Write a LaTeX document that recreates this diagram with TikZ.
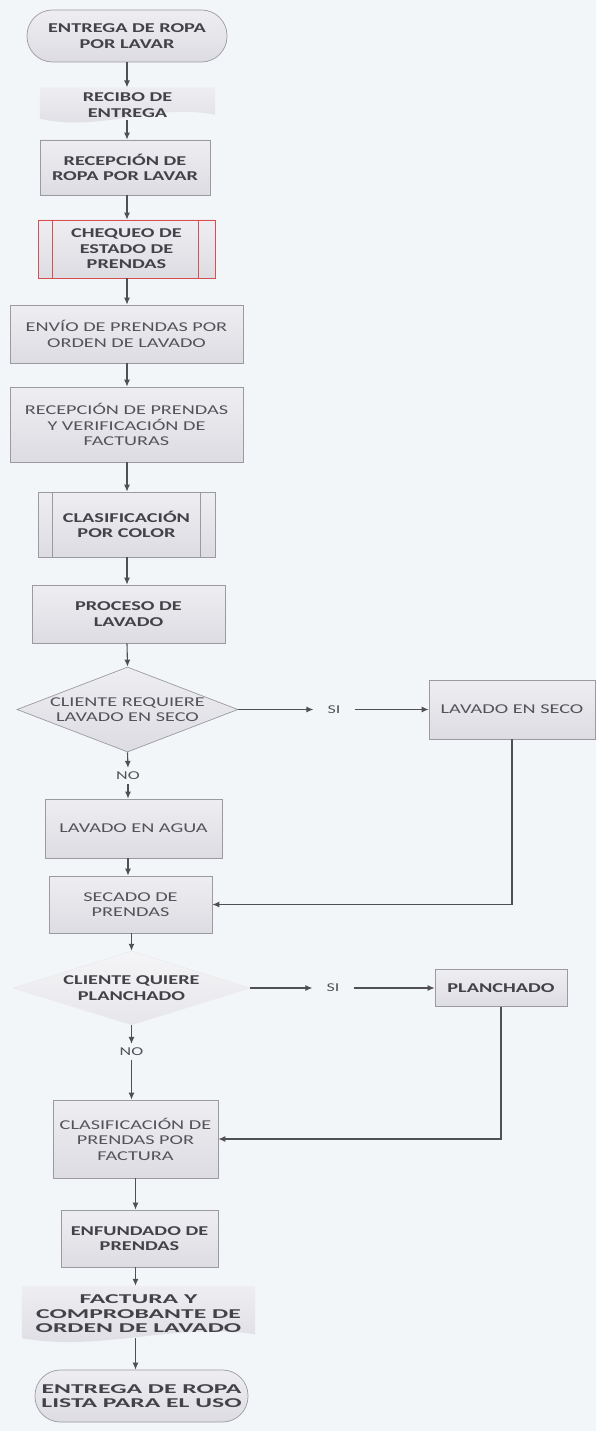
\documentclass[tikz,border=0pt]{standalone}
\usepackage{fontspec}
\setmainfont{Carlito}[FakeStretch=1.5]
\newfontfamily\widefont{Carlito}[FakeStretch=1.9]
\usetikzlibrary{shapes.geometric,arrows.meta,calc}

\definecolor{bgpaper}{HTML}{F3F6F8}
\definecolor{boxtop}{HTML}{EEEEF2}
\definecolor{boxbot}{HTML}{DCDCE2}
\definecolor{boxline}{HTML}{9A9AA0}
\definecolor{inkbold}{HTML}{424248}
\definecolor{inkreg}{HTML}{535359}
\definecolor{flowline}{HTML}{4F4F54}
\definecolor{checkred}{HTML}{D65050}

\pgfdeclarelayer{paper}
\pgfdeclarelayer{docs}
\pgfsetlayers{paper,docs,main}

% zero-width line, so that a diamond keeps its given size
\newcommand\zw[1]{\makebox[0pt]{#1}}

% document shape (flat top, wavy bottom) drawn behind a named node
\newcommand\wavedoc[1]{%
  \begin{pgfonlayer}{docs}
  \path[top color=boxtop, bottom color=boxbot]
    (#1.north west) -- (#1.north east) -- ($(#1.south east)+(0,-8)$)
    .. controls ($(#1.south east)!0.35!(#1.south west)+(0,-20)$)
            and ($(#1.south west)!0.35!(#1.south east)+(0,10)$)
    .. ($(#1.south west)+(0,-4)$) -- cycle;
  \end{pgfonlayer}}

\tikzset{
  base/.style={align=center, inner sep=0pt},
  boldtxt/.style={text=inkbold, font=\fontsize{13.5}{15.5}\selectfont\bfseries},
  widetxt/.style={text=inkbold, font=\widefont\fontsize{13.5}{14.5}\selectfont\bfseries},
  regtxt/.style={text=inkreg, font=\fontsize{13.5}{15.5}\selectfont},
  smalltxt/.style={text=inkreg, font=\fontsize{12}{14}\selectfont},
  procbox/.style={base, rectangle, draw=boxline, line width=0.7pt,
                  top color=boxtop, bottom color=boxbot},
  termbox/.style={procbox, rounded corners=25.5pt},
  decbox/.style={base, diamond, draw=boxline, line width=0.7pt,
                 top color=boxtop, bottom color=boxbot},
  decsoft/.style={base, diamond, draw=boxtop!80!boxbot, line width=0.5pt,
                  top color=boxtop!60!white, bottom color=boxbot!70!white},
  lbl/.style={base, smalltxt, inner xsep=14pt, inner ysep=4pt},
  flow/.style={draw=flowline, line width=1.1pt, -{Latex[length=7pt,width=6pt]}},
  plain/.style={draw=flowline, line width=1.1pt}
}

\begin{document}
\begin{tikzpicture}[x=1pt,y=-1pt]
\begin{pgfonlayer}{paper}
  \fill[bgpaper] (0,0) rectangle (596,1431);
\end{pgfonlayer}
\useasboundingbox (0,0) rectangle (596,1431);

% main column
\node[termbox, boldtxt, minimum width=200pt, minimum height=52pt] (inicio) at (127,36)
  {ENTREGA DE ROPA\\POR LAVAR};
\node[base, boldtxt, minimum width=175pt, minimum height=35pt] (recibo) at (127.5,105)
  {RECIBO DE\\ENTREGA};
\wavedoc{recibo}
\node[procbox, boldtxt, minimum width=170pt, minimum height=55pt] (recepcion) at (125,167.5)
  {RECEPCIÓN DE\\ROPA POR LAVAR};
\node[procbox, boldtxt, draw=checkred, minimum width=177pt, minimum height=58pt] (chequeo) at (126.5,249)
  {CHEQUEO DE\\ESTADO DE\\PRENDAS};
\draw[checkred, line width=0.7pt] ([xshift=15pt]chequeo.north west) -- ([xshift=15pt]chequeo.south west);
\draw[checkred, line width=0.7pt] ([xshift=-17pt]chequeo.north east) -- ([xshift=-17pt]chequeo.south east);
\node[procbox, regtxt, minimum width=233pt, minimum height=58pt] (envio) at (126.5,334)
  {ENVÍO DE PRENDAS POR\\ORDEN DE LAVADO};
\node[procbox, regtxt, minimum width=233pt, minimum height=75pt] (verifica) at (126.5,424.5)
  {RECEPCIÓN DE PRENDAS\\Y VERIFICACIÓN DE\\FACTURAS};
\node[procbox, boldtxt, minimum width=177pt, minimum height=65pt] (color) at (126.5,524.5)
  {CLASIFICACIÓN\\POR COLOR};
\draw[boxline, line width=0.7pt] ([xshift=15pt]color.north west) -- ([xshift=15pt]color.south west);
\draw[boxline, line width=0.7pt] ([xshift=-15pt]color.north east) -- ([xshift=-15pt]color.south east);
\node[procbox, boldtxt, minimum width=193pt, minimum height=58pt] (proceso) at (128.5,614)
  {PROCESO DE\\LAVADO};
\node[decbox, regtxt, minimum width=221pt, minimum height=85pt] (pregseco) at (127.5,709.5)
  {\zw{CLIENTE REQUIERE}\\\zw{LAVADO EN SECO}};
\node[lbl] (si1) at (334,709.5) {SI};
\node[procbox, regtxt, minimum width=166pt, minimum height=59pt] (enseco) at (512,709.5)
  {LAVADO EN SECO};
\node[lbl, inner xsep=4pt] (no1) at (128,776) {NO};
\node[procbox, regtxt, minimum width=177pt, minimum height=59pt] (agua) at (133.5,828.5)
  {LAVADO EN AGUA};
\node[procbox, regtxt, minimum width=163pt, minimum height=57pt] (secado) at (130.5,904.5)
  {SECADO DE\\PRENDAS};
\node[decsoft, boldtxt, minimum width=237pt, minimum height=74pt] (pregplancha) at (131.5,988)
  {\zw{CLIENTE QUIERE}\\\zw{PLANCHADO}};
\node[lbl] (si2) at (333,988) {SI};
\node[procbox, boldtxt, minimum width=132pt, minimum height=37pt] (planchado) at (501,988)
  {PLANCHADO};
\node[lbl, inner xsep=4pt] (no2) at (131.5,1052) {NO};
\node[procbox, regtxt, minimum width=165pt, minimum height=78pt] (factclas) at (135.5,1139)
  {CLASIFICACIÓN DE\\PRENDAS POR\\FACTURA};
\node[procbox, boldtxt, minimum width=157pt, minimum height=57pt] (enfundado) at (139.5,1238.5)
  {ENFUNDADO DE\\PRENDAS};
\node[base, widetxt, minimum width=233pt, minimum height=56pt] (factura) at (138.5,1314)
  {FACTURA Y\\COMPROBANTE DE\\ORDEN DE LAVADO};
\wavedoc{factura}
\node[termbox, widetxt, minimum width=213pt, minimum height=52pt] (fin) at (141.5,1396)
  {ENTREGA DE ROPA\\LISTA PARA EL USO};

% connectors
\draw[flow] (inicio.south) -- (inicio.south |- recibo.north);
\draw[flow] ([yshift=3pt]inicio.south |- recibo.south) -- (inicio.south |- recepcion.north);
\draw[flow] (inicio.south |- recepcion.south) -- (inicio.south |- chequeo.north);
\draw[flow] (inicio.south |- chequeo.south) -- (inicio.south |- envio.north);
\draw[flow] (inicio.south |- envio.south) -- (inicio.south |- verifica.north);
\draw[flow] (inicio.south |- verifica.south) -- (inicio.south |- color.north);
\draw[flow] (inicio.south |- color.south) -- (inicio.south |- proceso.north);
\draw[flow] (inicio.south |- proceso.south) -- (pregseco.north);
\draw[flow] (pregseco.south) -- (no1.north);
\draw[flow] (no1.south) -- (no1.south |- agua.north);
\draw[flow] (pregseco.east) -- (si1.west);
\draw[flow] (si1.east) -- (enseco.west);
\draw[flow] (enseco.south) |- (secado.east);
\draw[flow] (no1.south |- agua.south) -- (no1.south |- secado.north);
\draw[flow] (pregplancha.north |- secado.south) -- (pregplancha.north);
\draw[flow] (pregplancha.south) -- (no2.north);
\draw[flow] (no2.south) -- (no2.south |- factclas.north);
\draw[flow] (pregplancha.east) -- (si2.west);
\draw[flow] (si2.east) -- (planchado.west);
\draw[flow] (planchado.south) |- (factclas.east);
\draw[flow] (factclas.south) -- (factclas.south |- enfundado.north);
\draw[flow] (factclas.south |- enfundado.south) -- (factclas.south |- factura.north);
\draw[flow] ([yshift=4pt]factclas.south |- factura.south) -- (factclas.south |- fin.north);
\end{tikzpicture}
\end{document}
